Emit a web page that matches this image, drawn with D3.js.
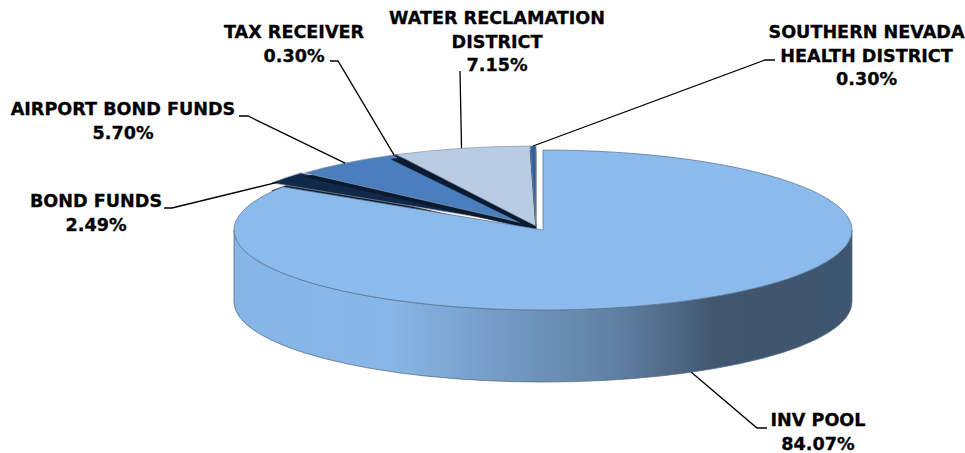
<!DOCTYPE html>
<html>
<head>
<meta charset="utf-8">
<script src="https://cdn.jsdelivr.net/npm/d3@7"></script>
<style>
  html, body { margin: 0; padding: 0; background: #fff; }
  text { font-family: "DejaVu Sans", sans-serif; font-weight: bold; font-size: 17.6px; fill: #000; stroke: #000; stroke-width: 0.3px; text-anchor: middle; }
</style>
</head>
<body>
<div id="chart"></div>
<script>
// order follows the pie clockwise from 12 o'clock
const names = ["INV POOL", "BOND FUNDS", "AIRPORT BOND FUNDS", "TAX RECEIVER", "WATER RECLAMATION DISTRICT", "SOUTHERN NEVADA HEALTH DISTRICT"];
const shares = [84.07, 2.49, 5.70, 0.30, 7.15, 0.30];
const shareLabels = ["84.07%", "2.49%", "5.70%", "0.30%", "7.15%", "0.30%"];
const colors = ["#8bbaec", "#10294b", "#4a7ebf", "#0f243e", "#b8cce4", "#2f5f9c"];

const width = 965, height = 453;
const rx = 309, ry = 80, depth = 72;
const main = { x: 543, y: 230 };
const rest = { x: 536, y: 226 };

// label layout: wrapped lines, centre x, first baseline, leader elbow points
const labelLines = [["INV POOL"], ["BOND FUNDS"], ["AIRPORT BOND FUNDS"], ["TAX RECEIVER"], ["WATER RECLAMATION", "DISTRICT"], ["SOUTHERN NEVADA", "HEALTH DISTRICT"]];
const labelX = [818, 96, 123, 294, 497, 866.5];
const labelY = [426, 207, 115, 38, 24, 38];
const elbows = [[[767, 428], [757, 428]], [[164, 208], [172, 208]], [[239, 116], [248, 116]], [[330, 61], [338, 61]], [[460, 71]], [[775, 60], [765, 60]]];
const leaderShift = [0, -0.07, 0, 0, 0, 0]; // radians, bond leader lands on the outer corner

const svg = d3.select("#chart").append("svg")
    .attr("width", width)
    .attr("height", height)
    .style("display", "block");

const grad = svg.append("defs").append("linearGradient")
    .attr("id", "side")
    .attr("gradientUnits", "userSpaceOnUse")
    .attr("x1", main.x - rx).attr("x2", main.x + rx)
    .attr("y1", 0).attr("y2", 0);
[[0, "#86b5e6"], [0.05, "#86b6e8"], [0.25, "#88b6e6"], [0.45, "#7298c2"], [0.62, "#5f80a3"], [0.78, "#41566f"], [0.9, "#3f5570"], [1, "#3e5671"]]
    .forEach(s => grad.append("stop").attr("offset", s[0]).attr("stop-color", s[1]));

const pie = d3.pie().sort(null).value(d => d)(shares);
const arc = d3.arc().innerRadius(0).outerRadius(rx);

function wedge(g, d, fill, stroke) {
    g.append("path")
        .attr("d", arc(d))
        .attr("fill", fill)
        .attr("stroke", stroke)
        .attr("stroke-width", 0.7)
        .attr("vector-effect", "non-scaling-stroke");
}

// smaller slices sit a little out from the centre, each with a dark cut face
pie.slice(1).forEach((d, i) => {
    const drop = i === 0 ? 8 : 4;
    const nudge = i === 0 ? -4 : 0;
    wedge(svg.append("g").attr("transform", `translate(${rest.x + nudge},${rest.y + drop}) scale(1,${ry / rx})`), d, "#0a1a30", "#0a1a30");
    wedge(svg.append("g").attr("transform", `translate(${rest.x + nudge},${rest.y}) scale(1,${ry / rx})`), d, colors[i + 1], "#8a97a8");
});

// outer wall of the big slice
svg.append("path")
    .attr("d", `M${main.x - rx},${main.y} A${rx},${ry} 0 0 0 ${main.x + rx},${main.y} L${main.x + rx},${main.y + depth} A${rx},${ry} 0 0 1 ${main.x - rx},${main.y + depth} Z`)
    .attr("fill", "url(#side)")
    .attr("stroke", "#5d7183")
    .attr("stroke-width", 0.8);

wedge(svg.append("g").attr("transform", `translate(${main.x},${main.y}) scale(1,${ry / rx})`), pie[0], colors[0], "#5a708a");

// leaders and labels
const rimPoint = (d, i) => {
    const a = (d.startAngle + d.endAngle) / 2 + leaderShift[i];
    const c = i === 0 ? { x: main.x, y: main.y + depth } : rest;
    return [c.x + rx * Math.sin(a), c.y - ry * Math.cos(a)];
};
const line = d3.line();

pie.forEach((d, i) => {
    svg.append("path")
        .attr("d", line([...elbows[i], rimPoint(d, i)]))
        .attr("fill", "none")
        .attr("stroke", "#000")
        .attr("stroke-width", 1.3);
    const t = svg.append("text").attr("x", labelX[i]).attr("y", labelY[i]);
    [...labelLines[i], shareLabels[i]].forEach((s, k) => {
        t.append("tspan").attr("x", labelX[i]).attr("dy", k ? 23.7 : 0).text(s);
    });
});
</script>
</body>
</html>
